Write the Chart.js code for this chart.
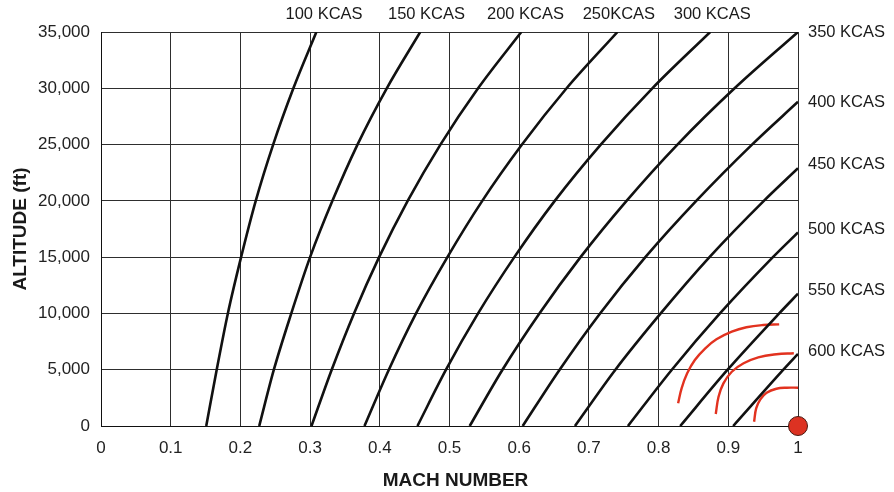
<!DOCTYPE html>
<html>
<head>
<meta charset="utf-8">
<title>Mach number vs altitude for constant KCAS</title>
<script src="https://cdn.jsdelivr.net/npm/chart.js@4/dist/chart.umd.min.js"></script>
<style>
  html, body { margin: 0; padding: 0; background: #ffffff; }
  #wrap { width: 894px; height: 492px; }
</style>
</head>
<body>
<div id="wrap"><canvas id="chart" width="894" height="492"></canvas></div>
<script>
// Altitude rows (ft) at which each constant-KCAS line is sampled
const altitudes = [0, 5000, 10000, 15000, 20000, 25000, 30000, 35000];

// Mach number of each constant calibrated airspeed at the altitudes above
const mach100 = [0.151, 0.166, 0.182, 0.201, 0.222, 0.247, 0.276, 0.309];
const mach150 = [0.227, 0.248, 0.273, 0.300, 0.332, 0.368, 0.410, 0.458];
const mach200 = [0.302, 0.331, 0.363, 0.399, 0.440, 0.487, 0.541, 0.603];
const mach250 = [0.378, 0.413, 0.452, 0.497, 0.547, 0.604, 0.668, 0.741];
const mach300 = [0.454, 0.495, 0.541, 0.593, 0.651, 0.717, 0.791, 0.874];
const mach350 = [0.529, 0.576, 0.629, 0.688, 0.754, 0.827, 0.909, 1.000];
const mach400 = [0.605, 0.658, 0.716, 0.781, 0.854, 0.934];
const mach450 = [0.680, 0.738, 0.803, 0.873, 0.951];
const mach500 = [0.756, 0.819, 0.888, 0.964];
const mach550 = [0.831, 0.899, 0.973];
const mach600 = [0.907, 0.979];

// Altitude (ft) where a line reaches Mach 1 (null: line leaves through the top)
const sonicAltitude = [null, null, null, null, null, null, 28800, 22900, 17200, 11750, 6400];

const kcasValues = [100, 150, 200, 250, 300, 350, 400, 450, 500, 550, 600];
const machSeries = [mach100, mach150, mach200, mach250, mach300, mach350,
                    mach400, mach450, mach500, mach550, mach600];

// Red arcs near Mach 1 (Mach, ft)
const arcOuterMach = [0.828, 0.833, 0.841, 0.852, 0.867, 0.883, 0.905, 0.926, 0.950, 0.973];
const arcOuterAlt  = [2020, 3350, 4680, 5860, 6900, 7700, 8380, 8770, 8970, 9030];
const arcMiddleMach = [0.882, 0.886, 0.893, 0.905, 0.922, 0.943, 0.969, 0.994];
const arcMiddleAlt  = [1070, 2600, 3790, 4820, 5570, 6100, 6370, 6460];
const arcInnerMach = [0.937, 0.940, 0.946, 0.955, 0.969, 0.984, 1.000];
const arcInnerAlt  = [380, 1570, 2370, 2960, 3310, 3400, 3400];

// Marker at Mach 1, sea level
const markerMach = [1.0];
const markerAlt = [0];

// Axis tick labels
const machTickLabels = ['0', '0.1', '0.2', '0.3', '0.4', '0.5', '0.6', '0.7', '0.8', '0.9', '1'];
const altitudeTickLabels = ['0', '5,000', '10,000', '15,000', '20,000', '25,000', '30,000', '35,000'];

// Line labels: top row and right column
const topLabels = ['100 KCAS', '150 KCAS', '200 KCAS', '250KCAS', '300 KCAS'];
const topLabelMach = [0.320, 0.467, 0.609, 0.743, 0.877];
const rightLabels = ['350 KCAS', '400 KCAS', '450 KCAS', '500 KCAS', '550 KCAS', '600 KCAS'];
const rightLabelAlt = [35000, 28700, 23200, 17450, 12000, 6650];

const FONT = '"Liberation Sans", Arial, Helvetica, sans-serif';
Chart.defaults.font.family = FONT;

function toPoints(xs, ys) {
  return xs.map((x, i) => ({ x: x, y: ys[i] }));
}

const kcasDatasets = machSeries.map((machs, i) => {
  const pts = toPoints(machs, altitudes.slice(0, machs.length));
  if (sonicAltitude[i] !== null) pts.push({ x: 1.0, y: sonicAltitude[i] });
  return {
    label: kcasValues[i] + ' KCAS',
    data: pts,
    borderColor: '#111111',
    borderWidth: 2.6,
    pointRadius: 0,
    fill: false,
    cubicInterpolationMode: 'monotone'
  };
});

const arcStyle = {
  borderColor: '#e2321f',
  borderWidth: 2.4,
  pointRadius: 0,
  fill: false,
  tension: 0.4,
  borderCapStyle: 'butt'
};

const datasets = kcasDatasets.concat([
  Object.assign({ label: 'arc outer', data: toPoints(arcOuterMach, arcOuterAlt) }, arcStyle),
  Object.assign({ label: 'arc middle', data: toPoints(arcMiddleMach, arcMiddleAlt) }, arcStyle),
  Object.assign({ label: 'arc inner', data: toPoints(arcInnerMach, arcInnerAlt) }, arcStyle),
  {
    label: 'Mach 1',
    data: toPoints(markerMach, markerAlt),
    showLine: false,
    pointRadius: 9.5,
    pointHoverRadius: 9.5,
    pointBackgroundColor: '#dc3222',
    pointBorderColor: '#4a1a12',
    pointBorderWidth: 1,
    clip: false
  }
]);

// Writes the KCAS names beside the ends of the lines and the x-axis title
const kcasLabelPlugin = {
  id: 'kcasLabels',
  afterDatasetsDraw(chart) {
    const { ctx, chartArea, scales } = chart;
    const x = scales.x, y = scales.y;
    ctx.save();
    ctx.font = '16.5px ' + FONT;
    ctx.fillStyle = '#1a1a1a';
    ctx.textBaseline = 'middle';
    ctx.textAlign = 'center';
    topLabels.forEach((t, i) => {
      ctx.fillText(t, x.getPixelForValue(topLabelMach[i]), chartArea.top - 18);
    });
    ctx.textAlign = 'left';
    rightLabels.forEach((t, i) => {
      ctx.fillText(t, chartArea.right + 10, y.getPixelForValue(rightLabelAlt[i]));
    });
    ctx.font = 'bold 19px ' + FONT;
    ctx.textAlign = 'center';
    ctx.fillText('MACH NUMBER', (chartArea.left + chartArea.right) / 2 + 6, chartArea.bottom + 55);
    ctx.restore();
  }
};

new Chart(document.getElementById('chart'), {
  type: 'line',
  data: { datasets: datasets },
  options: {
    responsive: false,
    animation: false,
    devicePixelRatio: 1,
    layout: { padding: { top: 32, right: 96, left: 0, bottom: 0 } },
    plugins: {
      legend: { display: false },
      tooltip: { enabled: false }
    },
    scales: {
      x: {
        type: 'linear',
        min: 0,
        max: 1,
        ticks: {
          stepSize: 0.1,
          padding: 12,
          color: '#222222',
          font: { size: 17 },
          maxRotation: 0,
          autoSkip: false,
          callback: (v, i) => machTickLabels[i]
        },
        grid: { color: '#2e2e2e', lineWidth: 1, drawTicks: false },
        border: { color: '#111111', width: 1 },
        title: { display: false },
        afterFit: (s) => { s.height = 66; }
      },
      y: {
        type: 'linear',
        min: 0,
        max: 35000,
        ticks: {
          stepSize: 5000,
          padding: 11,
          color: '#222222',
          font: { size: 17 },
          callback: (v, i) => altitudeTickLabels[i]
        },
        grid: { color: '#2e2e2e', lineWidth: 1, drawTicks: false },
        border: { color: '#111111', width: 1 },
        title: {
          display: true,
          text: 'ALTITUDE (ft)',
          color: '#1a1a1a',
          font: { size: 19, weight: 'bold' },
          padding: { top: 9, bottom: 0 }
        },
        afterFit: (s) => { s.width = 101; }
      }
    }
  },
  plugins: [kcasLabelPlugin]
});
</script>
</body>
</html>
